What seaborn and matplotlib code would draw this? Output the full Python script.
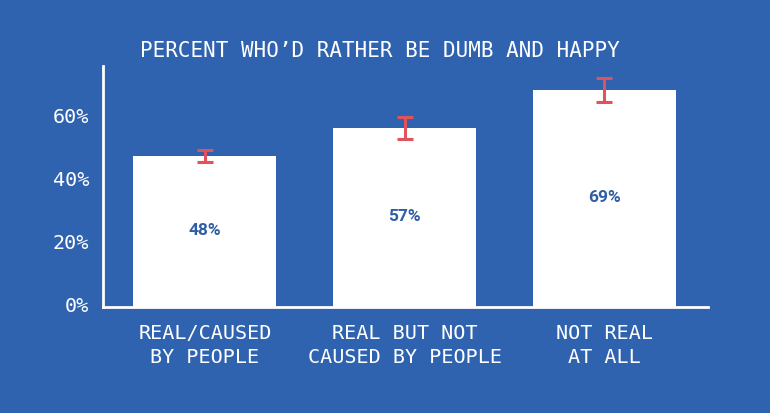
import matplotlib
matplotlib.use("Agg")
import matplotlib.pyplot as plt
import matplotlib.transforms as mtransforms
import seaborn as sns
import pandas as pd

categories = ["REAL/CAUSED\nBY PEOPLE", "REAL BUT NOT\nCAUSED BY PEOPLE", "NOT REAL\nAT ALL"]
values = [48, 57, 69]
errors = [1.9, 3.5, 3.9]
bar_labels = ["48%", "57%", "69%"]
yticks = [0, 20, 40, 60]
ytick_labels = ["0%", "20%", "40%", "60%"]
title = "PERCENT WHO\u2019D RATHER BE DUMB AND HAPPY"

BG = "#2F63B0"
RED = "#E0535C"
LABEL_BLUE = "#2F5EA6"
MONO = ["DejaVu Sans Mono"]

sns.set_theme(style="white")
plt.rcParams["font.family"] = MONO

df = pd.DataFrame({"cat": categories, "val": values})

fig = plt.figure(figsize=(7.70, 4.13), dpi=100, facecolor=BG)
ax = fig.add_axes([103/770, 106/413, (708-103)/770, (307-66)/413])
ax.set_facecolor(BG)

sns.barplot(data=df, x="cat", y="val", color="white", width=0.715,
            saturation=1, ax=ax, edgecolor="none")
ax.errorbar(range(len(values)), values, yerr=errors, fmt="none",
            ecolor=RED, elinewidth=2.2, capsize=6, capthick=2.2, zorder=5)

for i, (v, lab) in enumerate(zip(values, bar_labels)):
    ax.text(i, v / 2 + 0.4, lab, ha="center", va="center", color=LABEL_BLUE,
            fontsize=12.5, fontweight="bold", family=["Roboto", "DejaVu Sans"])

ax.set_xlim(-0.51, 2.52)
ax.set_ylim(0, 76.7)
ax.set_yticks(yticks)
ax.set_yticklabels(ytick_labels, color="white", fontsize=14.5)
ax.set_xlabel("")
ax.set_ylabel("")
ax.tick_params(axis="x", length=0, pad=12, labelsize=14.5, labelcolor="white")
ax.tick_params(axis="y", length=0, pad=10)
for lab in ax.get_xticklabels():
    lab.set_linespacing(1.35)
offset = mtransforms.ScaledTranslation(0, 3/100, fig.dpi_scale_trans)
for lab in ax.get_yticklabels():
    lab.set_transform(lab.get_transform() + offset)

for s in ["top", "right"]:
    ax.spines[s].set_visible(False)
for s in ["left", "bottom"]:
    ax.spines[s].set_color("white")
    ax.spines[s].set_linewidth(2)

fig.text(380/770, 1 - 51/413, title, ha="center", va="center", color="white",
         fontsize=15)

fig.savefig("out.png", dpi=100, facecolor=BG)
